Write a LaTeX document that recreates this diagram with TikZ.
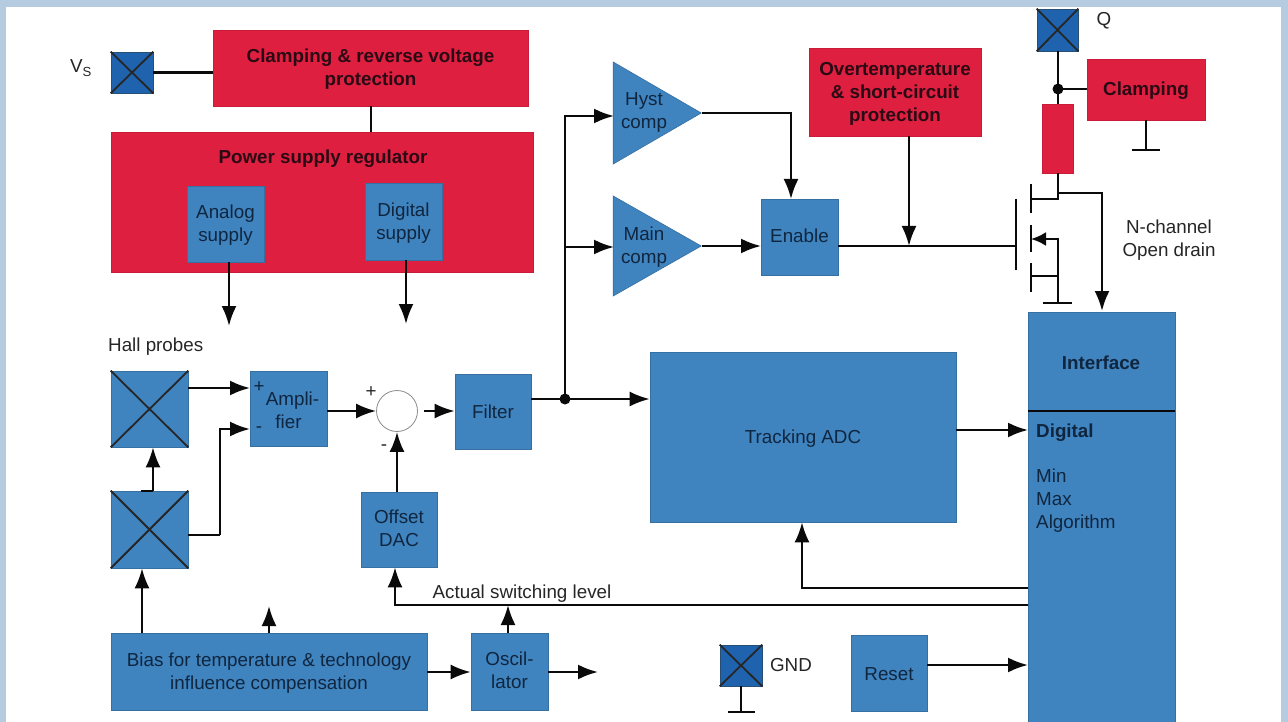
\documentclass[tikz,border=0pt]{standalone}
\usepackage{fontspec}
\setmainfont{Liberation Sans}
\usetikzlibrary{arrows.meta,shapes.geometric}
\definecolor{bgc}{HTML}{B5CBE0}
\definecolor{blu}{HTML}{3F83BF}
\definecolor{dblu}{HTML}{1F62AE}
\definecolor{redb}{HTML}{DE1F3F}
\definecolor{ink}{HTML}{10263F}
\definecolor{rink}{HTML}{2A0A14}
\definecolor{lne}{HTML}{0A0A0A}
\tikzset{
  bx/.style={inner sep=0pt,align=center,font=\fontsize{18.8}{23}\selectfont,text=ink,fill=blu,draw=blu!85!black,line width=.6},
  rd/.style={inner sep=0pt,align=center,font=\fontsize{18.8}{23}\selectfont\bfseries,text=rink,fill=redb,draw=redb!90!black,line width=.6},
  pad/.style={inner sep=0pt,fill=dblu,draw=blu!60!black,line width=.6},
  tri/.style={isosceles triangle,isosceles triangle stretches,shape border rotate=0,inner sep=0pt,fill=blu,draw=blu!85!black,line width=.6,anchor=apex},
  txtb/.style={inner sep=0pt,align=center,font=\fontsize{18.8}{23}\selectfont,text=ink},
  lbl/.style={inner sep=0pt,align=left,font=\fontsize{18.8}{23}\selectfont,text=black!85},
  wire/.style={draw=lne,line width=2.4},
  thinw/.style={draw=lne,line width=1.3},
  arr/.style={wire,-{Latex[length=20pt,width=15pt]}},
  xw/.style={draw=black!85,line width=1.8},
  dot/.style={circle,fill=lne,inner sep=0pt,minimum size=11pt}
}
\def\ty{-1.5pt}
\newcommand{\pbox}[7]{\node[#6,minimum width={(#4-#2)*1pt},minimum height={(#5-#3)*1pt}] (#1) at ({(#2+#4)/2},{(#3+#5)/2}) {};
\node[#6,draw=none,fill=none,yshift=\ty] (#1t) at (#1) {#7};}
\begin{document}
\begin{tikzpicture}[x=1pt,y=-1pt]
\useasboundingbox (0,0) rectangle (1288,722);
\fill[bgc] (0,0) rectangle (1288,722);
\fill[white] (6,7) rectangle (1281,722);
% boxes
\pbox{vs}{111}{52}{153}{93}{pad}{}
\pbox{q}{1037}{9}{1078}{51}{pad}{}
\pbox{gnd}{720}{645}{762}{686}{pad}{}
\pbox{clampP}{213}{30}{528}{106}{rd}{Clamping \& reverse voltage\\protection}
\pbox{psr}{111}{132}{533}{272}{rd}{}
\node[inner sep=0pt,font=\fontsize{18.8}{23}\selectfont\bfseries,text=rink] (psrt2) at (323,159) {Power supply regulator};
\pbox{ana}{187}{186}{264}{262}{bx}{Analog\\supply}
\pbox{dig}{365}{183}{442}{260}{bx}{Digital\\supply}
\pbox{over}{809}{48}{981}{136}{rd}{Overtemperature\\\& short-circuit\\protection}
\pbox{clamp}{1087}{59}{1205}{120}{rd}{Clamping}
\pbox{res}{1042}{104}{1073}{173}{rd}{}
\node[tri,minimum height=88pt,minimum width=102pt] (hyst) at (702,113) {};
\node[tri,minimum height=88pt,minimum width=100pt] (main) at (702,246) {};
\node[txtb] (hystt) at (644,112) {Hyst\\comp};
\node[txtb] (maint) at (644,247) {Main\\comp};
\def\ty{1.5pt}
\pbox{enable}{761}{199}{838}{275}{bx}{Enable}
\def\ty{-1.5pt}
\pbox{iface}{1028}{312}{1175}{722}{bx}{}
\node[inner sep=0pt,font=\fontsize{18.8}{23}\selectfont\bfseries,text=ink] (ifacet2) at (1101,363) {Interface};
\node[inner sep=0pt,anchor=west,font=\fontsize{18.8}{23}\selectfont\bfseries,text=ink] (digt) at (1036,433) {Digital};
\node[txtb,anchor=north west,align=left] (algo) at (1036,469) {Min\\Max\\Algorithm};
\pbox{track}{650}{352}{956}{522}{bx}{Tracking ADC}
\def\ty{0pt}
\pbox{filter}{455}{374}{531}{449}{bx}{Filter}
\def\ty{-1.5pt}
\pbox{amp}{250}{371}{327}{446}{bx}{\hspace*{8pt}Ampli-\\fier}
\pbox{hallA}{111}{371}{188}{447}{bx}{}
\pbox{hallB}{111}{491}{188}{568}{bx}{}
\def\ty{1pt}
\pbox{offset}{361}{492}{437}{567}{bx}{Offset\\DAC}
\def\ty{-1.5pt}
\pbox{bias}{111}{633}{427}{710}{bx}{Bias for temperature \& technology\\influence compensation}
\def\ty{1.5pt}
\pbox{osc}{471}{633}{548}{710}{bx}{Oscil-\\lator}
\def\ty{-1.5pt}
\pbox{reset}{851}{635}{927}{711}{bx}{Reset}
\node[circle,fill=white,draw=black!45,line width=.8,minimum size=41pt,inner sep=0pt] (sum) at (397,411) {};
% crosses
\foreach \n in {vs,q,gnd,hallA,hallB}{
  \draw[xw] (\n.north west)--(\n.south east);
  \draw[xw] (\n.north east)--(\n.south west);
}
% labels
\node[lbl] (vsl) at (81,68) {V\textsubscript{S}};
\node[lbl] (ql) at (1104,21) {Q};
\node[lbl] (gndl) at (791,665) {GND};
\node[lbl,align=center] (nch) at (1169,240) {N-channel\\Open drain};
\node[lbl,anchor=west] (hp) at (108,347) {Hall probes};
\node[lbl] (asl) at (522,594) {Actual switching level};
\node[lbl,text=ink] (pa) at (259,387) {+};
\node[lbl,text=ink] (ma) at (259,430) {-};
\node[lbl] (ps) at (371,392) {+};
\node[lbl] (ms) at (384,448) {-};
% coordinates
\coordinate (ampP) at (250,388);
\coordinate (ampM) at (250,429);
\coordinate (hbE) at (220,535);
\coordinate (j) at (565,399);
\coordinate (hI) at (614,116);
\coordinate (mI) at (614,247);
\coordinate (enT) at (791,199);
\coordinate (enE) at (761,246);
\coordinate (gw) at (909,246);
\coordinate (gL) at (1016,246);
\coordinate (gT) at (1016,199);
\coordinate (gB) at (1016,270);
\coordinate (trI) at (956,430);
\coordinate (ifI) at (1028,430);
\coordinate (fb1) at (1028,588);
\coordinate (fb1a) at (802,588);
\coordinate (fb2) at (1028,605);
\coordinate (fb2a) at (395,605);
\coordinate (oscUp) at (508,605);
\coordinate (biasUp) at (269,606);
\coordinate (biasB) at (142,633);
\coordinate (oscOut) at (598,672);
\coordinate (biasO) at (427,672);
\coordinate (rstI) at (1028,665);
\coordinate (anaT) at (229,326);
\coordinate (digT) at (406,324);
\coordinate (gndE) at (741,712);
\coordinate (gndL) at (728,712);
\coordinate (gndR) at (755,712);
\coordinate (clG) at (1146,150);
\coordinate (clGL) at (1132,150);
\coordinate (clGR) at (1160,150);
\coordinate (dn) at (1058,89);
\coordinate (drJ) at (1058,193);
\coordinate (drE) at (1058,199);
\coordinate (drR) at (1102,193);
\coordinate (drT) at (1102,311);
\coordinate (chA1) at (1031,184);
\coordinate (chA2) at (1031,213);
\coordinate (chB1) at (1031,225);
\coordinate (chB2) at (1031,252);
\coordinate (chC1) at (1031,263);
\coordinate (chC2) at (1031,292);
\coordinate (dc) at (1031,199);
\coordinate (sc) at (1031,239);
\coordinate (bc) at (1031,276);
\coordinate (sJ) at (1058,239);
\coordinate (bJ) at (1058,276);
\coordinate (sE) at (1058,303);
\coordinate (sL) at (1043,303);
\coordinate (sR) at (1072,303);
\coordinate (ifL) at (1028,411);
\coordinate (ifR) at (1175,411);
\coordinate (hbt) at (153,491);
\coordinate (hbtL) at (141,491);
\coordinate (sumE) at (424,411);
% connectors
\draw[wire] (vs.east) -- (clampP.west |- vs.east);
\draw[wire] (clampP.south -| psrt2) ++(48,0) -- ++(0,26);
\draw[arr] (ana.south -| anaT) -- (anaT);
\draw[arr] (dig.south -| digT) -- (digT);
\draw[arr] (hallA.east |- ampP) -- (ampP);
\draw[wire] (hallB.east |- hbE) -- (hbE);
\draw[arr] (hbE) |- (ampM);
\draw[arr] (hbt) -- (hallA.south -| hbt);
\draw[wire] (hbtL) -- (hbt);
\draw[arr] (biasB) -- (hallB.south -| biasB);
\draw[arr] (bias.north -| biasUp) -- (biasUp);
\draw[arr] (amp.east |- sum.west) -- (sum.west);
\draw[arr] (sumE) -- (filter.west |- sumE);
\draw[arr] (offset.north -| sum.south) -- (sum.south);
\draw[wire] (filter.east |- j) -- (j);
\node[dot,minimum size=11pt] (jd) at (j) {};
\draw[arr] (j) -- (track.west |- j);
\draw[arr] (j) |- (hI);
\draw[arr] (j) |- (mI);
\draw[arr] (hyst.apex) -| (enT);
\draw[arr] (main.apex) -- (enE);
\draw[arr] (over.south -| gw) -- (gw);
\draw[thinw] (enable.east |- gL) -- (gL);
\draw[arr] (trI) -- (ifI);
\draw[wire,line width=2.6] (ifL) -- (ifR);
\draw[arr] (fb1) -- (fb1a) -- (track.south -| fb1a);
\draw[arr] (fb2) -- (fb2a) -- (offset.south -| fb2a);
\draw[arr] (osc.north -| oscUp) -- (oscUp);
\draw[arr] (biasO) -- (osc.west |- biasO);
\draw[arr] (osc.east |- oscOut) -- (oscOut);
\draw[arr] (reset.east |- rstI) -- (rstI);
\draw[wire] (gnd.south -| gndE) -- (gndE);
\draw[wire] (gndL) -- (gndR);
\draw[wire] (q.south -| dn) -- (res.north -| dn);
\draw[wire] (dn) -- (clamp.west |- dn);
\node[dot] (dnd) at (dn) {};
\draw[wire] (clamp.south -| clG) -- (clG);
\draw[wire] (clGL) -- (clGR);
\draw[wire] (res.south -| drE) -- (drE) -- (dc);
\draw[arr] (drJ) -- (drR) -- (drT);
\draw[wire] (gT) -- (gB);
\draw[wire] (chA1) -- (chA2);
\draw[wire] (chB1) -- (chB2);
\draw[wire] (chC1) -- (chC2);
\draw[wire,-{Latex[length=15pt,width=14pt]}] (sE) -- (sJ) -- (sc);
\draw[wire] (bJ) -- (bc);
\draw[wire] (sL) -- (sR);
\end{tikzpicture}
\end{document}
